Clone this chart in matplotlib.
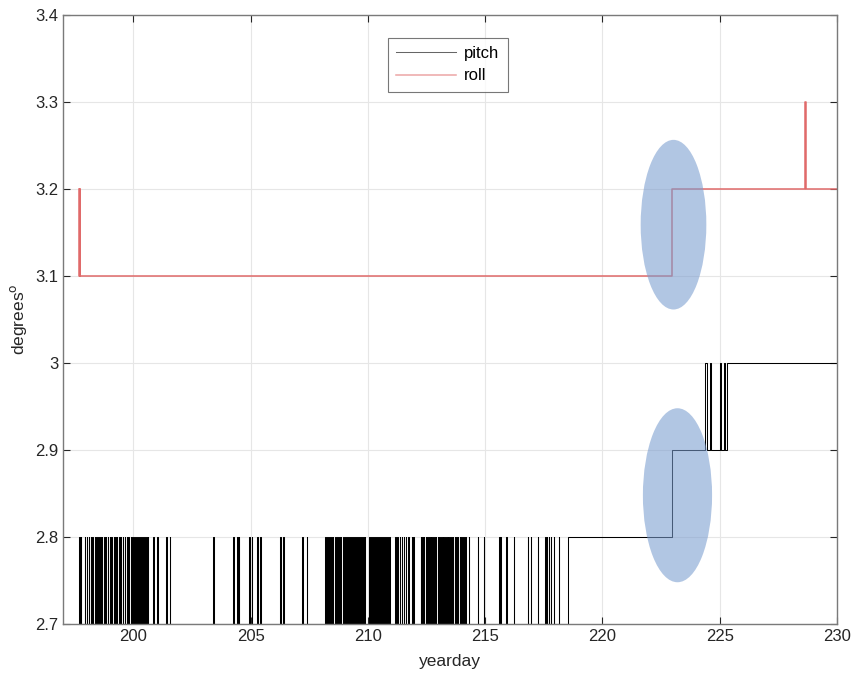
import matplotlib
matplotlib.use("Agg")
import matplotlib.pyplot as plt
from matplotlib.patches import Ellipse
from matplotlib.ticker import FuncFormatter

plt.rcParams['font.family'] = ['Liberation Sans', 'DejaVu Sans']

# ---- data ----
# days on which pitch briefly jumps from 2.7 to 2.8
pitch_pulse_days = [
    197.70, 197.77, 197.94, 198.02, 198.10, 198.19, 198.26, 198.36, 198.43,
    198.52, 198.60, 198.66, 198.76, 198.84, 198.92, 199.00, 199.07, 199.17,
    199.24, 199.31, 199.40, 199.48, 199.55, 199.65, 199.72, 199.80, 199.90,
    199.97, 200.05, 200.14, 200.22, 200.30, 200.40, 200.48, 200.57, 200.62,
    200.86, 201.03, 201.40, 201.57, 203.42, 204.28, 204.44, 204.50, 204.96, 205.06,
    205.28, 205.42, 206.27, 206.41, 207.20, 207.41,
    208.20, 208.27, 208.35, 208.44, 208.52, 208.61, 208.70, 208.78, 208.86,
    208.95, 209.04, 209.12, 209.21, 209.29, 209.38, 209.46, 209.55, 209.63,
    209.72, 209.80, 209.88, 210.06, 210.15, 210.23, 210.32, 210.40, 210.49,
    210.57, 210.66, 210.75, 210.84, 210.93, 211.18, 211.27, 211.36, 211.45,
    211.54, 211.63, 211.72, 211.88, 211.95,
    212.26, 212.33, 212.40, 212.47, 212.55, 212.62, 212.69, 212.76, 212.84,
    212.91, 212.98, 213.05, 213.13, 213.20, 213.27, 213.34, 213.42, 213.49,
    213.56, 213.63, 213.71, 213.78, 213.85, 213.92, 214.00, 214.07, 214.16,
    214.31, 214.69, 214.95, 215.60, 215.66, 215.90, 216.23, 216.83, 216.96, 217.26,
    217.58, 217.64, 217.72, 217.80, 217.94, 218.15,
]
pitch_low, pitch_high = 2.7, 2.8
pitch_start_day = 197.66
# later step changes of pitch (day, new value)
pitch_step_days = [218.54, 222.98, 224.36, 224.44, 224.58, 224.62, 225.00, 225.07, 225.19, 225.22, 225.29]
pitch_step_vals = [2.8, 2.9, 3.0, 2.9, 3.0, 2.9, 3.0, 2.9, 3.0, 2.9, 3.0]
end_day = 230.0

roll_days = [197.68, 197.70, 197.72, 197.74, 222.98, 228.64, 228.67]
roll_vals = [3.2, 3.1, 3.2, 3.1, 3.2, 3.3, 3.2]

# highlighted regions (center day, center value, width days, height value)
ellipse_x = [223.03, 223.2]
ellipse_y = [3.159, 2.848]
ellipse_w = [2.8, 2.95]
ellipse_h = [0.195, 0.2]

# ---- build step series ----
hw = 0.012
px, py = [pitch_start_day], [pitch_low]
for d in pitch_pulse_days:
    px += [d - hw, d - hw, d + hw, d + hw]
    py += [pitch_low, pitch_high, pitch_high, pitch_low]
cur = pitch_low
for d, v in zip(pitch_step_days, pitch_step_vals):
    px += [d, d]
    py += [cur, v]
    cur = v
px.append(end_day); py.append(cur)

rx, ry = [], []
cur = None
for d, v in zip(roll_days, roll_vals):
    if cur is not None:
        rx.append(d); ry.append(cur)
    rx.append(d); ry.append(v)
    cur = v
rx.append(end_day); ry.append(cur)

fig = plt.figure(figsize=(8.53, 6.73), dpi=100)
ax = fig.add_axes([0.0739, 0.0728, 0.9073, 0.9049])

ax.plot(px, py, color='black', lw=0.75, label='pitch')
ax.plot(rx, ry, color='#e06a6a', lw=1.1, label='roll')

for cx, cy, w, h in zip(ellipse_x, ellipse_y, ellipse_w, ellipse_h):
    ax.add_patch(Ellipse((cx, cy), w, h, facecolor='#7a9dcf', alpha=0.58,
                         edgecolor='none', zorder=5))

ax.set_xlim(197.0, 230.0)
ax.set_ylim(2.7, 3.4)
ax.set_xticks([200, 205, 210, 215, 220, 225, 230])
ax.set_yticks([2.7, 2.8, 2.9, 3.0, 3.1, 3.2, 3.3, 3.4])
ax.yaxis.set_major_formatter(FuncFormatter(lambda v, p: f"{v:g}"))
ax.grid(True, color='#e6e6e6', lw=0.8)
ax.set_axisbelow(True)
ax.tick_params(direction='in', top=True, right=True, labelsize=12,
               colors='#262626', length=5, width=0.8)
for s in ax.spines.values():
    s.set_color('#7a7a7a')
    s.set_linewidth(1.0)

ax.set_xlabel('yearday', fontsize=12.5, color='#262626', labelpad=7)
ax.set_ylabel('degrees$^{\\rm o}$', fontsize=12.5, color='#262626', labelpad=4)

leg = ax.legend(loc='upper center', bbox_to_anchor=(0.497, 0.963), borderaxespad=0,
                fontsize=12, frameon=True, fancybox=False, edgecolor='#555555',
                handlelength=3.6, handletextpad=0.5, borderpad=0.5, labelspacing=0.45)
leg.get_frame().set_linewidth(0.8)
for line in leg.get_lines():
    line.set_alpha(0.6)

fig.savefig('out.png', dpi=100)
